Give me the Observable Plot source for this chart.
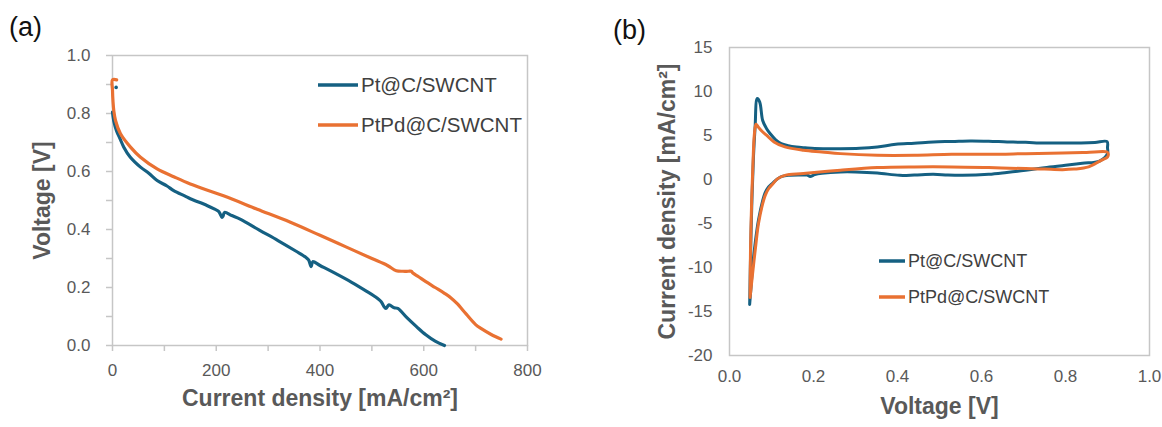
<!DOCTYPE html>
<html>
<head>
<meta charset="utf-8">
<script src="https://cdn.jsdelivr.net/npm/d3@7"></script>
<script src="https://cdn.jsdelivr.net/npm/@observablehq/plot@0.6"></script>
<style>
  html, body { margin: 0; padding: 0; background: #fff; }
  #wrap { position: relative; width: 1162px; height: 427px; overflow: hidden; font-family: "Liberation Sans", Arial, sans-serif; }
  .panel { position: absolute; top: 0; }
  .tag { position: absolute; font-size: 27px; color: #111; }
  .legend { position: absolute; color: #404040; }
  .legend div { display: flex; align-items: center; }
  .legend svg { margin-right: 3px; }
</style>
</head>
<body>
<div id="wrap"></div>
<script>
// ---------- Panel (a): polarization curves ----------
const seriesNames = ["Pt@C/SWCNT", "PtPd@C/SWCNT"];
const colors = ["#156082", "#E97132"];

const aPtX = [0, 3, 7.7, 14, 21.8, 34, 54, 70, 86, 105, 118, 140, 150, 182, 197, 205, 211, 213, 216, 230, 247, 283, 319, 354, 372, 378, 383, 386, 400, 426, 461, 490, 505, 518, 523, 527, 533, 543, 550, 568, 586, 604, 622, 640];
const aPtY = [0.805, 0.77, 0.741, 0.715, 0.684, 0.65, 0.615, 0.594, 0.569, 0.55, 0.534, 0.515, 0.506, 0.483, 0.47, 0.462, 0.442, 0.446, 0.459, 0.448, 0.435, 0.398, 0.362, 0.325, 0.305, 0.295, 0.272, 0.289, 0.276, 0.252, 0.218, 0.187, 0.17, 0.151, 0.135, 0.128, 0.14, 0.13, 0.128, 0.095, 0.065, 0.037, 0.015, 0.0];
const aPtDotX = [7];
const aPtDotY = [0.89];

const aPdX = [8, 0, 0, 1, 2.5, 5.8, 15.4, 34.7, 54, 86, 118, 150, 214, 279, 343, 400, 450, 500, 530, 547, 560, 570, 576, 579, 590, 604, 622, 640, 652, 664, 682, 700, 711, 730, 749];
const aPdY = [0.916, 0.916, 0.88, 0.84, 0.81, 0.776, 0.73, 0.684, 0.649, 0.609, 0.582, 0.557, 0.516, 0.47, 0.425, 0.38, 0.34, 0.3, 0.276, 0.258, 0.256, 0.256, 0.256, 0.25, 0.237, 0.22, 0.2, 0.18, 0.165, 0.145, 0.108, 0.072, 0.058, 0.038, 0.022];

const aXTicks = [0, 100, 200, 300, 400, 500, 600, 700, 800];
const aXLabels = [0, 200, 400, 600, 800];
const aYTicks = [0, 0.1, 0.2, 0.3, 0.4, 0.5, 0.6, 0.7, 0.8, 0.9, 1.0];
const aYLabels = [0, 0.2, 0.4, 0.6, 0.8, 1.0];

// ---------- Panel (b): cyclic voltammetry ----------
const bPtV = [0.048, 0.050, 0.053, 0.057, 0.061, 0.066, 0.072, 0.079, 0.088, 0.097, 0.110, 0.123, 0.140, 0.159, 0.180, 0.203, 0.264, 0.310, 0.352, 0.396, 0.440, 0.485, 0.530, 0.573, 0.617, 0.661, 0.705, 0.749, 0.793, 0.837, 0.870, 0.899, 0.900, 0.900, 0.881, 0.840, 0.800, 0.750, 0.705, 0.660, 0.617, 0.555, 0.520, 0.485, 0.440, 0.405, 0.352, 0.300, 0.264, 0.220, 0.203, 0.192, 0.185, 0.170, 0.141, 0.125, 0.115, 0.103, 0.093, 0.085, 0.079, 0.069, 0.062, 0.055, 0.050, 0.048];
const bPtI = [-14.2, -9.0, -3.0, 2.5, 6.0, 9.2, 8.8, 6.7, 5.8, 5.2, 4.5, 4.08, 3.85, 3.7, 3.6, 3.51, 3.5, 3.55, 3.7, 4.0, 4.12, 4.27, 4.32, 4.38, 4.35, 4.27, 4.22, 4.15, 4.15, 4.15, 4.2, 4.3, 3.6, 2.94, 2.1, 1.85, 1.62, 1.35, 1.05, 0.8, 0.59, 0.47, 0.5, 0.59, 0.5, 0.47, 0.74, 0.86, 0.86, 0.7, 0.55, 0.35, 0.5, 0.5, 0.47, 0.35, 0.1, -0.4, -0.85, -1.5, -2.4, -4.6, -6.9, -9.96, -13.0, -14.2];

const bPdV = [0.049, 0.050, 0.053, 0.056, 0.059, 0.063, 0.068, 0.075, 0.088, 0.106, 0.132, 0.176, 0.220, 0.264, 0.352, 0.440, 0.529, 0.617, 0.705, 0.793, 0.850, 0.899, 0.902, 0.900, 0.885, 0.855, 0.820, 0.793, 0.750, 0.705, 0.617, 0.529, 0.440, 0.352, 0.264, 0.176, 0.132, 0.115, 0.103, 0.093, 0.085, 0.079, 0.069, 0.062, 0.055, 0.049];
const bPdI = [-13.4, -8.0, -2.0, 2.0, 5.0, 6.28, 6.0, 5.6, 5.03, 4.27, 3.7, 3.32, 3.13, 2.94, 2.75, 2.75, 2.86, 2.86, 2.94, 3.02, 3.08, 3.13, 2.9, 2.56, 2.18, 1.43, 1.18, 1.12, 1.18, 1.24, 1.35, 1.43, 1.43, 1.35, 1.05, 0.67, 0.47, 0.1, -0.5, -1.05, -1.8, -2.75, -5.0, -7.7, -10.7, -13.4];

const bXTicks = [0, 0.2, 0.4, 0.6, 0.8, 1.0];
const bYTicks = [-20, -15, -10, -5, 0, 5, 10, 15];

// ---------- helpers ----------
const toRows = (xs, ys, name) => xs.map((x, i) => ({x, y: ys[i], s: name}));
const gray = "#c6c6c6";
const tickText = "#595959";
const font = '"Liberation Sans", Arial, sans-serif';
const blank = () => "";

const wrap = document.getElementById("wrap");

// Panel (a)
const aRows = [...toRows(aPtX, aPtY, seriesNames[0]), ...toRows(aPdX, aPdY, seriesNames[1])];
const plotA = Plot.plot({
  width: 580, height: 427,
  marginTop: 55, marginLeft: 112, marginRight: 53, marginBottom: 82,
  style: {fontFamily: font, fontSize: "17px", color: tickText, background: "transparent"},
  x: {domain: [0, 800]},
  y: {domain: [0, 1]},
  color: {domain: seriesNames, range: colors},
  marks: [
    Plot.frame({stroke: gray, strokeWidth: 1.5}),
    Plot.axisX({ticks: aXTicks, tickFormat: blank, tickSize: 6, stroke: gray, strokeWidth: 1.5, label: null}),
    Plot.axisX({ticks: aXLabels, tickFormat: d => String(d), tickSize: 0, tickPadding: 18, fill: tickText, label: null}),
    Plot.axisY({ticks: aYTicks, tickFormat: blank, tickSize: 6, stroke: gray, strokeWidth: 1.5, label: null}),
    Plot.axisY({ticks: aYLabels, tickFormat: d => d.toFixed(1), tickSize: 0, tickPadding: 22, fill: tickText, label: null}),
    Plot.line(aRows, {x: "x", y: "y", z: "s", stroke: "s", strokeWidth: 3.2, curve: "catmull-rom"}),
    Plot.dot(toRows(aPtDotX, aPtDotY, seriesNames[0]), {x: "x", y: "y", r: 1.8, fill: "s", stroke: "none"}),
    Plot.text(["Current density [mA/cm²]"], {frameAnchor: "bottom", dy: 60, fontSize: 23, fontWeight: "bold", fill: tickText}),
    Plot.text(["Voltage [V]"], {frameAnchor: "left", textAnchor: "middle", dx: -70, rotate: -90, fontSize: 23, fontWeight: "bold", fill: tickText})
  ]
});
plotA.classList.add("panel");
plotA.style.left = "0px";
wrap.appendChild(plotA);

// Panel (b)
const bRows = [...toRows(bPtV, bPtI, seriesNames[0]), ...toRows(bPdV, bPdI, seriesNames[1])];
const plotB = Plot.plot({
  width: 582, height: 427,
  marginTop: 47, marginLeft: 149, marginRight: 13, marginBottom: 72,
  style: {fontFamily: font, fontSize: "17px", color: tickText, background: "transparent"},
  x: {domain: [0, 1]},
  y: {domain: [-20, 15]},
  color: {domain: seriesNames, range: colors},
  marks: [
    Plot.frame({stroke: gray, strokeWidth: 1.5}),
    Plot.axisX({ticks: bXTicks, tickFormat: d => d.toFixed(1), tickSize: 0, tickPadding: 14, fill: tickText, label: null}),
    Plot.axisY({ticks: bYTicks, tickFormat: d => String(d), tickSize: 0, tickPadding: 17, fill: tickText, label: null}),
    Plot.line(bRows, {x: "x", y: "y", z: "s", stroke: "s", strokeWidth: 3, curve: "catmull-rom"}),
    Plot.text(["Voltage [V]"], {frameAnchor: "bottom", dy: 58, fontSize: 23, fontWeight: "bold", fill: tickText}),
    Plot.text(["Current density [mA/cm²]"], {frameAnchor: "left", textAnchor: "middle", dx: -62, rotate: -90, fontSize: 23, fontWeight: "bold", fill: tickText})
  ]
});
plotB.classList.add("panel");
plotB.style.left = "580px";
wrap.appendChild(plotB);

// Panel tags
function tag(text, left, top) {
  const d = document.createElement("div");
  d.className = "tag"; d.textContent = text;
  d.style.left = left + "px"; d.style.top = top + "px";
  wrap.appendChild(d);
}
tag("(a)", 9, 12);
tag("(b)", 613, 15);

// Legends
function legend(left, top, lineLen, fontSize, rowH) {
  const box = document.createElement("div");
  box.className = "legend";
  box.style.left = left + "px"; box.style.top = top + "px";
  box.style.fontSize = fontSize + "px";
  seriesNames.forEach((n, i) => {
    const row = document.createElement("div");
    row.style.height = rowH + "px";
    row.innerHTML = `<svg width="${lineLen}" height="6"><line x1="0" x2="${lineLen}" y1="3" y2="3" stroke="${colors[i]}" stroke-width="3.5"/></svg><span>${n}</span>`;
    box.appendChild(row);
  });
  wrap.appendChild(box);
}
legend(318, 65, 40, 20.5, 40);
legend(879, 243, 26, 18, 36);
</script>
</body>
</html>
